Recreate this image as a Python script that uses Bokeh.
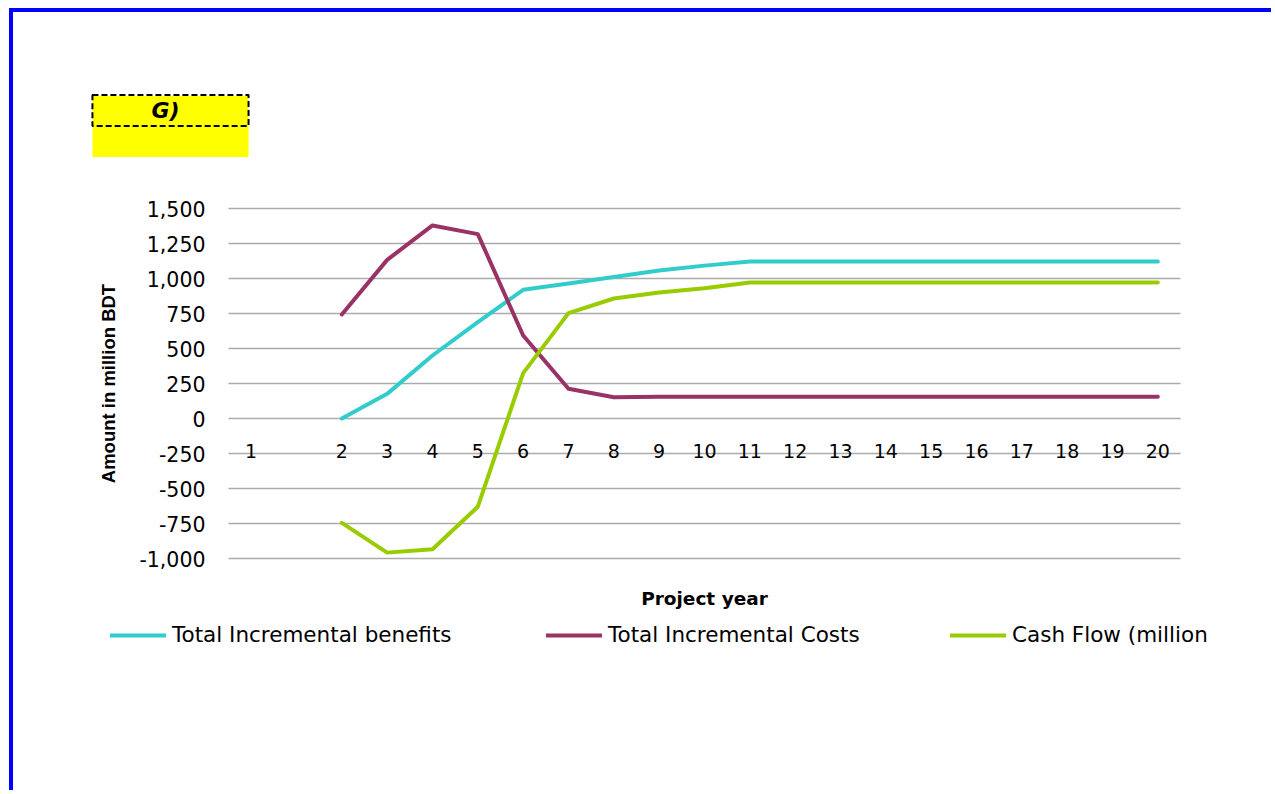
from bokeh.plotting import figure
from bokeh.models import (Label, Legend, LegendItem, FixedTicker, NumeralTickFormatter, Range1d,
                          LinearAxis)
from bokeh.embed import file_html
from bokeh.resources import INLINE

# ---- data ----
categories = ["1", " "] + [str(i) for i in range(2, 21)]
years = [str(i) for i in range(2, 21)]
benefits = [0, 176, 450, 688, 919, 965, 1010, 1057, 1092,
            1121, 1121, 1121, 1121, 1121, 1121, 1121, 1121, 1121, 1121]
costs = [743, 1133, 1379, 1317, 593, 212, 152, 155, 155,
         155, 155, 155, 155, 155, 155, 155, 155, 155, 155]
cash_flow = [-745, -958, -934, -630, 324, 753, 857, 900, 930,
             971, 971, 971, 971, 971, 971, 971, 971, 971, 971]
y_ticks = [-1000, -750, -500, -250, 0, 250, 500, 750, 1000, 1250, 1500]
series_names = ["Total Incremental benefits", "Total Incremental Costs", "Cash Flow (million"]
series_colors = ["#33CCCC", "#993366", "#99CC00"]

# category positions (index along the category axis)
cat_pos = list(range(len(categories)))
x_years = [categories.index(y) for y in years]
x_lo, x_hi = -0.5, len(categories) - 0.5

W, H = 1262, 782
px_per_cat = 952 / len(categories)
px_per_val = 350 / (y_ticks[-1] - y_ticks[0])
x_range = Range1d(x_lo - 215 / px_per_cat, x_hi + 95 / px_per_cat)
y_range = Range1d(y_ticks[0] - 236 / px_per_val, y_ticks[-1] + 196 / px_per_val)

p = figure(width=W, height=H, x_range=x_range, y_range=y_range,
           x_axis_location=None, y_axis_location=None,
           output_backend="svg", toolbar_location=None,
           min_border_left=0, min_border_right=0, min_border_top=0, min_border_bottom=0)
p.styles = {"border-left": "4px solid #0000FF", "border-top": "4px solid #0000FF",
            "margin-left": "9px", "margin-top": "8px"}
p.outline_line_color = None
p.background_fill_color = "white"
p.border_fill_color = "white"
p.xgrid.visible = False
p.ygrid.visible = False

# horizontal gridlines across the plot area
p.segment(x0=x_lo, x1=x_hi, y0=y_ticks, y1=y_ticks, line_color="#ABABAB", line_width=1.5,
          level="underlay")

renderers = []
for vals, col in zip([benefits, costs, cash_flow], series_colors):
    r = p.line(x_years, vals, line_color=col, line_width=4, line_join="round", line_cap="round")
    renderers.append(r)

# y axis at the plot-area left edge
ya = LinearAxis(fixed_location=x_lo, bounds=(y_ticks[0], y_ticks[-1]),
                ticker=FixedTicker(ticks=y_ticks), formatter=NumeralTickFormatter(format="0,0"),
                axis_line_color=None, major_tick_line_color=None, minor_tick_line_color=None,
                major_tick_out=0, major_tick_in=0, major_label_standoff=23,
                major_label_text_font="DejaVu Sans", major_label_text_font_size="20.5px",
                major_label_text_color="black",
                axis_label="Amount in million BDT", axis_label_text_font="Liberation Sans",
                axis_label_text_font_style="bold", axis_label_text_font_size="18.5px",
                axis_label_text_color="black", axis_label_standoff=17)
p.add_layout(ya, "left")

# category axis crossing at zero
xa = LinearAxis(fixed_location=0, bounds=(x_lo, x_hi), ticker=FixedTicker(ticks=cat_pos),
                major_label_overrides={i: c for i, c in zip(cat_pos, categories)},
                axis_line_color=None, major_tick_line_color=None, minor_tick_line_color=None,
                major_tick_out=0, major_tick_in=0, major_label_standoff=21,
                major_label_text_font="DejaVu Sans", major_label_text_font_size="19px",
                major_label_text_color="black")
p.add_layout(xa, "below")

# x axis title
p.add_layout(Label(x=(x_lo + x_hi) / 2, y=-1286, text="Project year",
                   text_align="center", text_baseline="middle", text_font="DejaVu Sans",
                   text_font_style="bold", text_font_size="18.5px", text_color="black"))

# G) box (screen units from the bottom-left of the canvas)
p.add_layout(Label(x=170 - 13, y=794 - 126, x_units="screen", y_units="screen", text="G)",
                   text_color="#FFFF00", text_align="center", text_baseline="middle",
                   text_font="DejaVu Sans", text_font_style="bold italic", text_font_size="22px",
                   background_fill_color="#FFFF00", background_fill_alpha=1,
                   padding=dict(left=64, right=64, top=18, bottom=18)))
p.add_layout(Label(x=170 - 13, y=794 - 110, x_units="screen", y_units="screen", text="G)",
                   text_align="center", text_baseline="middle", text_color="#FFFF00",
                   text_font="DejaVu Sans", text_font_style="bold italic", text_font_size="22px",
                   border_line_color="black", border_line_width=2, border_line_dash="6 3",
                   padding=dict(left=64, right=64, top=3, bottom=3)))
p.add_layout(Label(x=165 - 13, y=794 - 110, x_units="screen", y_units="screen", text="G)",
                   text_align="center", text_baseline="middle", text_color="black",
                   text_font="DejaVu Sans", text_font_style="bold italic", text_font_size="22px"))

# one legend entry per series, each placed where the reference shows it
legend_x = [110, 546, 950]
for name, r, lx in zip(series_names, renderers, legend_x):
    lg = Legend(items=[LegendItem(label=name, renderers=[r])],
                orientation="horizontal", location=(lx - 13, 794 - 647),
                glyph_width=56, glyph_height=20, label_standoff=6, padding=0, margin=0,
                border_line_color=None, background_fill_alpha=0,
                label_text_font="DejaVu Sans", label_text_font_size="21.5px",
                label_text_color="black")
    p.add_layout(lg, "center")

open("out.html", "w").write(file_html(p, INLINE))
